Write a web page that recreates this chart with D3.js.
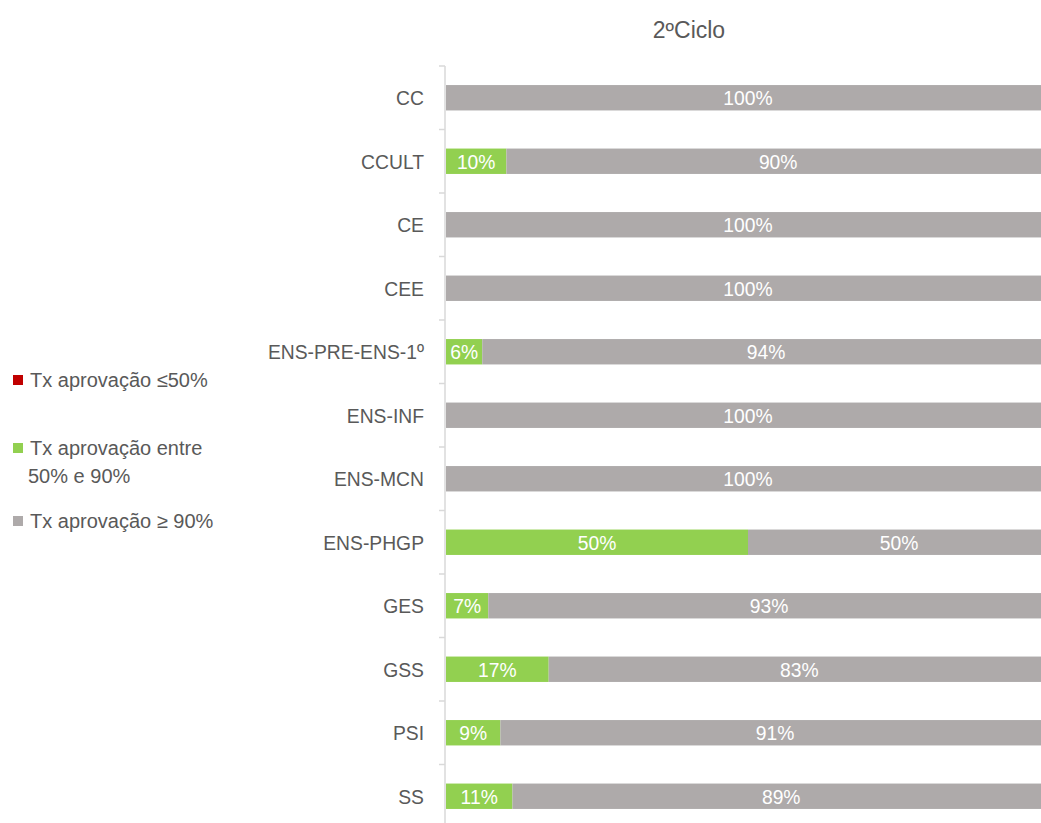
<!DOCTYPE html>
<html>
<head>
<meta charset="utf-8">
<script src="https://cdn.jsdelivr.net/npm/d3@7"></script>
<style>
  body { margin: 0; background: #fff; }
  svg { display: block; }
  text { font-family: "Liberation Sans", Arial, sans-serif; }
</style>
</head>
<body>
<svg id="chart" width="1041" height="823"></svg>
<script>
// categories and percentages per approval band
const categories = ["CC", "CCULT", "CE", "CEE", "ENS-PRE-ENS-1º", "ENS-INF", "ENS-MCN", "ENS-PHGP", "GES", "GSS", "PSI", "SS"];
const low = [0, 0, 0, 0, 0, 0, 0, 0, 0, 0, 0, 0];
const mid = [0, 10, 0, 0, 6, 0, 0, 50, 7, 17, 9, 11];
const high = [100, 90, 100, 100, 94, 100, 100, 50, 93, 83, 91, 89];
const seriesNames = ["Tx aprovação ≤50%", "Tx aprovação entre 50% e 90%", "Tx aprovação ≥ 90%"];
const colors = ["#c00000", "#92d050", "#aeaaaa"];

const svg = d3.select("#chart");
const margin = { top: 66, left: 446, right: -9, bottom: -5 };
const width = 1041, height = 823;
const squeeze = 0.92; // narrow font look

const rows = categories.map((c, i) => ({ cat: c, low: low[i], mid: mid[i], high: high[i] }));
const stack = d3.stack().keys(["low", "mid", "high"])(rows);

const x = d3.scaleLinear().domain([0, 100]).range([margin.left, width - margin.right]);
const y = d3.scaleBand().domain(categories).range([margin.top, height - margin.bottom]).paddingInner(0.6).paddingOuter(0.3);

// title
svg.append("text")
  .attr("x", 689).attr("y", 38)
  .attr("text-anchor", "middle")
  .attr("font-size", 23).attr("fill", "#595959")
  .text("2ºCiclo");

// axis line with ticks between categories
const step = y.step();
const axisG = svg.append("g");
axisG.append("line")
  .attr("x1", margin.left - 1).attr("x2", margin.left - 1)
  .attr("y1", margin.top).attr("y2", height)
  .attr("stroke", "#d9d9d9").attr("stroke-width", 1.5);
axisG.selectAll("line.tick").data(d3.range(categories.length + 1)).join("line")
  .attr("class", "tick")
  .attr("x1", margin.left - 7).attr("x2", margin.left - 1)
  .attr("y1", i => y.range()[0] + i * step).attr("y2", i => y.range()[0] + i * step)
  .attr("stroke", "#d9d9d9").attr("stroke-width", 1.5);

// category labels
svg.append("g").selectAll("text").data(categories).join("text")
  .attr("transform", d => `translate(${margin.left - 22},${y(d) + y.bandwidth() / 2}) scale(${squeeze},1)`)
  .attr("dy", "0.35em")
  .attr("text-anchor", "end")
  .attr("font-size", 21).attr("fill", "#595959")
  .text(d => d);

// bars
const layers = svg.append("g").selectAll("g").data(stack).join("g")
  .attr("fill", (d, i) => colors[i]);
layers.selectAll("rect").data(d => d).join("rect")
  .attr("x", d => x(d[0]))
  .attr("y", d => y(d.data.cat))
  .attr("width", d => x(d[1]) - x(d[0]))
  .attr("height", y.bandwidth());

// value labels
const labelG = svg.append("g");
stack.forEach(layer => {
  labelG.selectAll(null).data(layer.filter(d => d[1] - d[0] > 0)).join("text")
    .attr("transform", d => `translate(${(x(d[0]) + x(d[1])) / 2},${y(d.data.cat) + y.bandwidth() / 2}) scale(${squeeze},1)`)
    .attr("dy", "0.36em")
    .attr("text-anchor", "middle")
    .attr("font-size", 21).attr("fill", "#ffffff")
    .text(d => (d[1] - d[0]) + "%");
});

// legend
const legendItems = [
  { lines: ["Tx aprovação ≤50%"], y: 380 },
  { lines: ["Tx aprovação entre", "50% e 90%"], y: 448 },
  { lines: ["Tx aprovação ≥ 90%"], y: 521 }
];
const legend = svg.append("g");
legendItems.forEach((item, i) => {
  legend.append("rect")
    .attr("x", 13).attr("y", item.y - 5)
    .attr("width", 10).attr("height", 10)
    .attr("fill", colors[i]);
  const t = legend.append("text")
    .attr("font-size", 20).attr("fill", "#595959");
  item.lines.forEach((ln, j) => {
    t.append("tspan")
      .attr("x", j === 0 ? 30 : 28)
      .attr("y", item.y + j * 28)
      .attr("dy", "0.35em")
      .text(ln);
  });
});
</script>
</body>
</html>
